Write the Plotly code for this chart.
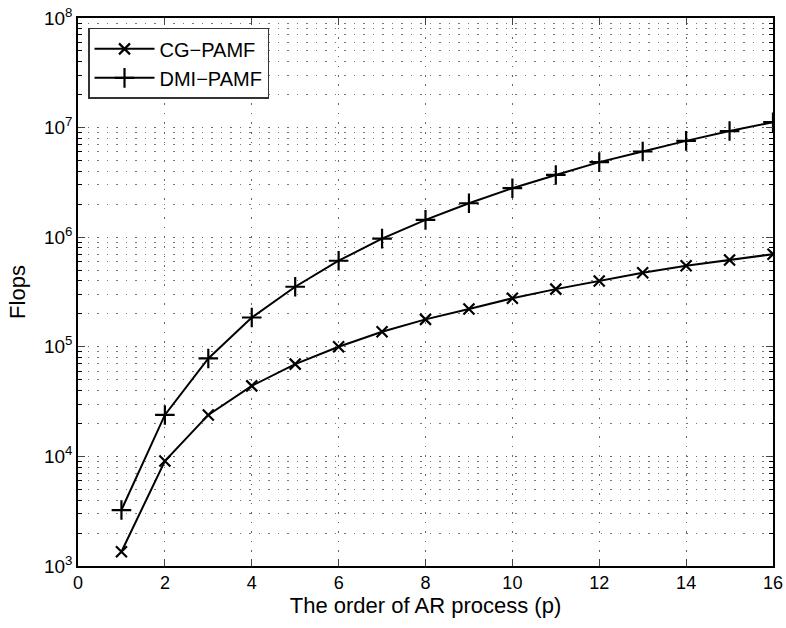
import plotly.graph_objects as go

order_p = list(range(1, 17))
cg_pamf = [1350, 9080, 23900, 44000, 69500, 100000, 137000, 178000, 221000,
           277000, 336000, 398000, 474000, 550000, 620000, 700000]
dmi_pamf = [3240, 23900, 78300, 185000, 353000, 610000, 970000, 1440000, 2040000,
            2800000, 3700000, 4840000, 6050000, 7570000, 9300000, 11200000]

x_ticks = list(range(0, 17, 2))
y_tickvals = [1e3, 1e4, 1e5, 1e6, 1e7, 1e8]
y_ticktext = ["10<sup>%d</sup>" % e for e in range(3, 9)]
y_minor = [m * 10 ** e for e in range(3, 8) for m in range(2, 10)]

FONT = "Liberation Sans, Arial, Helvetica, sans-serif"
GRID_DASH = "1.5px,8px"

fig = go.Figure()
fig.add_trace(go.Scatter(
    x=order_p, y=cg_pamf, name="CG\u2212PAMF", mode="lines+markers",
    line=dict(color="black", width=2),
    marker=dict(symbol="x-thin", size=11, line=dict(color="black", width=2.2)),
))
fig.add_trace(go.Scatter(
    x=order_p, y=dmi_pamf, name="DMI\u2212PAMF", mode="lines+markers",
    line=dict(color="black", width=2),
    marker=dict(symbol="cross-thin", size=14, line=dict(color="black", width=2.2)),
))

fig.update_layout(
    width=786, height=628,
    margin=dict(l=78, r=13, t=18, b=62),
    paper_bgcolor="white", plot_bgcolor="white",
    font=dict(family=FONT, size=18, color="black"),
    showlegend=True,
    legend=dict(
        x=0.0144, y=0.982, xanchor="left", yanchor="top",
        bgcolor="white", bordercolor="#333333", borderwidth=1.5,
        font=dict(size=20), tracegroupgap=0, itemwidth=60,
    ),
)
fig.update_xaxes(
    range=[0, 16], tickvals=x_ticks, ticks="inside", ticklen=7, tickwidth=1,
    showline=True, linecolor="black", linewidth=1.5, mirror="ticks",
    showgrid=True, gridcolor="#666666", gridwidth=1, griddash=GRID_DASH,
    zeroline=False, automargin=False,
    title=dict(text="The order of AR process (p)", standoff=4),
    tickfont=dict(size=18),
)
fig.update_yaxes(
    type="log", range=[3, 8], tickvals=y_tickvals, ticktext=y_ticktext,
    ticks="inside", ticklen=7, tickwidth=1,
    showline=True, linecolor="black", linewidth=1.5, mirror="ticks",
    showgrid=True, gridcolor="#666666", gridwidth=1, griddash=GRID_DASH,
    zeroline=False, automargin=False,
    minor=dict(tickvals=y_minor, ticks="inside", ticklen=4, tickcolor="black",
               showgrid=True, gridcolor="#777777", gridwidth=1, griddash=GRID_DASH),
    title=dict(text="Flops", standoff=12),
    tickfont=dict(size=19),
)

fig.write_html(
    "out.html",
    config={"displayModeBar": False},
    post_script="document.body.style.margin='0';document.body.style.padding='0';",
)
